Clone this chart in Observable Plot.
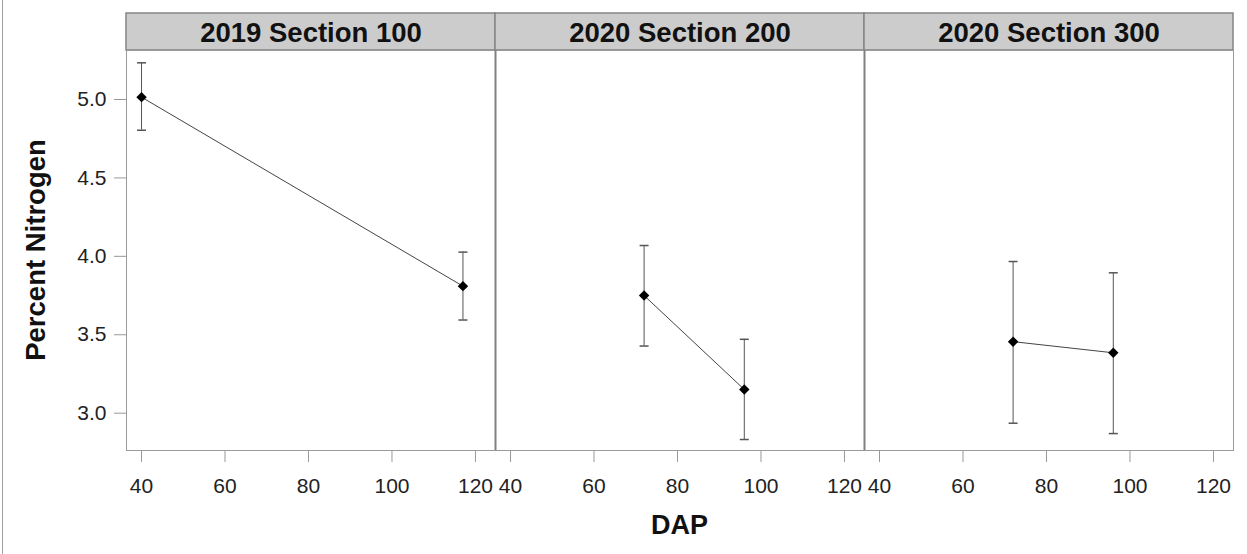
<!DOCTYPE html>
<html><head><meta charset="utf-8">
<script src="https://cdn.jsdelivr.net/npm/d3@7"></script>
<script src="https://cdn.jsdelivr.net/npm/@observablehq/plot@0.6"></script>
<style>
body{margin:0;background:#fff}
#wrap{position:relative;width:1247px;height:554px}
#wrap svg{display:block}
#edge{position:absolute;left:2px;top:0;width:1px;height:554px;background:#a0a0a0}
</style>
</head><body><div id="wrap"><div id="edge"></div></div>
<script>
// ---- data ----
const panels = ["2019 Section 100", "2020 Section 200", "2020 Section 300"];
const panel  = ["2019 Section 100", "2019 Section 100", "2020 Section 200", "2020 Section 200", "2020 Section 300", "2020 Section 300"];
const dap    = [40, 117, 72, 96, 72, 96];
const meanN  = [5.015, 3.81, 3.75, 3.151, 3.456, 3.385];
const lowerN = [4.804, 3.594, 3.428, 2.832, 2.936, 2.870];
const upperN = [5.234, 4.027, 4.069, 3.471, 3.967, 3.895];
const xTicks = [40, 60, 80, 100, 120];
const yTicks = [3.0, 3.5, 4.0, 4.5, 5.0];
const xDomain = [36.4, 124.8];
const yDomain = [2.762, 5.3125];
const xTitle = "DAP";
const yTitle = "Percent Nitrogen";

const data = dap.map((d, i) => ({panel: panel[i], dap: d, mean: meanN[i], lower: lowerN[i], upper: upperN[i]}));
const cap = {draw(ctx, size) { const r = Math.sqrt(size / Math.PI); ctx.moveTo(-r, 0); ctx.lineTo(r, 0); }};
const FONT = "'Liberation Sans', Arial, Helvetica, sans-serif";

const chart = Plot.plot({
  width: 1247, height: 554,
  marginTop: 50, marginBottom: 104, marginLeft: 126, marginRight: 14,
  style: {fontFamily: FONT, background: "transparent", overflow: "visible"},
  fx: {domain: panels, padding: 0, label: null},
  x: {domain: xDomain},
  y: {domain: yDomain},
  marks: [
    Plot.frame({stroke: "#9a9a9a"}),
    Plot.ruleX(panels.slice(0, 2), {fx: d => d, x: xDomain[1], stroke: "#808080", strokeWidth: 2}),
    Plot.axisFx({anchor: "top", label: null, tickSize: 0, tickPadding: 8.5, fontSize: 27.5, fontWeight: "bold", fill: "#111"}),
    Plot.axisX({ticks: xTicks, tickSize: 12, tickPadding: 16, fontSize: 21, stroke: "#999", fill: "#222", label: null}),
    Plot.axisY({ticks: yTicks, tickFormat: d3.format(".1f"), tickSize: 12, tickPadding: 8, fontSize: 21, stroke: "#999", fill: "#222", label: null}),
    Plot.ruleX(data, {fx: "panel", x: "dap", y1: "lower", y2: "upper", stroke: "#555"}),
    Plot.dot(data, {fx: "panel", x: "dap", y: "upper", symbol: cap, r: 4.5, stroke: "#555", fill: "none"}),
    Plot.dot(data, {fx: "panel", x: "dap", y: "lower", symbol: cap, r: 4.5, stroke: "#555", fill: "none"}),
    Plot.line(data, {fx: "panel", x: "dap", y: "mean", stroke: "#444", strokeWidth: 1}),
    Plot.dot(data, {fx: "panel", x: "dap", y: "mean", symbol: "diamond2", r: 4.7, fill: "#000", stroke: "none"})
  ]
});

// strips behind the facet titles, positioned from the fx scale
const fxs = chart.scale("fx");
const ys = chart.scale("y");
const svg = d3.select(chart);
const strips = svg.insert("g", ":first-child");
const plotTop = Math.min(...ys.range);
panels.forEach(p => {
  strips.append("rect")
    .attr("x", fxs.apply(p)).attr("y", plotTop - 37)
    .attr("width", fxs.bandwidth).attr("height", 37)
    .attr("fill", "#cccccc").attr("stroke", "#858585").attr("stroke-width", 1.5);
});
const cx = (fxs.range[0] + fxs.range[1]) / 2;
svg.append("text").text(xTitle)
  .attr("x", cx).attr("y", 534).attr("text-anchor", "middle")
  .attr("font-size", 27).attr("font-weight", "bold").attr("fill", "#111").attr("font-family", FONT);
const cy = (ys.range[0] + ys.range[1]) / 2;
svg.append("text").text(yTitle)
  .attr("transform", `translate(45,${cy}) rotate(-90)`).attr("text-anchor", "middle")
  .attr("font-size", 27.5).attr("font-weight", "bold").attr("fill", "#111").attr("font-family", FONT);

document.getElementById("wrap").appendChild(chart);
</script>
</body></html>
